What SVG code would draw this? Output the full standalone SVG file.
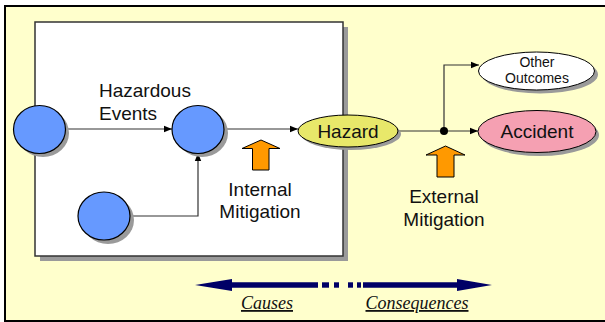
<svg xmlns="http://www.w3.org/2000/svg" width="605" height="322" viewBox="0 0 605 322">
  <defs>
    <marker id="tip" viewBox="0 0 8 8" refX="8" refY="4" markerWidth="8" markerHeight="8" markerUnits="userSpaceOnUse" orient="auto">
      <path d="M0,0.8 L8,4 L0,7.2 Z" fill="#000"/>
    </marker>
    <style>
      .lbl { font-family: "Liberation Sans", Arial, sans-serif; font-size: 19px; fill: #111; text-anchor: middle; }
      .small { font-size: 14px; }
      .left { text-anchor: start; }
      .axis { font-family: "Liberation Serif", "Times New Roman", serif; font-size: 18px; font-style: italic; fill: #111; text-anchor: middle; text-decoration: underline; }
      .shadow { fill: #9a9a9a; }
      .event { fill: #6699ff; stroke: #000; stroke-width: 1.2; }
      .conn { fill: none; stroke: #333; stroke-width: 1.2; marker-end: url(#tip); }
      .plain { fill: none; stroke: #333; stroke-width: 1.2; }
      .mit { fill: #ff9900; stroke: #000; stroke-width: 1; }
    </style>
  </defs>

  <!-- page background and frame -->
  <rect x="0" y="0" width="605" height="322" fill="#fff"/>
  <rect x="5" y="6" width="604" height="315" fill="#ffffcc" stroke="#000" stroke-width="2"/>

  <!-- causes region -->
  <g id="causes-box">
    <rect x="40" y="27" width="308" height="234" class="shadow"/>
    <rect x="35" y="22" width="308" height="234" fill="#fff" stroke="#333" stroke-width="1.5"/>
  </g>

  <!-- connectors -->
  <g id="connectors">
    <path class="conn" d="M65,129 H172"/>
    <path class="conn" d="M224,129 H298"/>
    <path class="conn" d="M130,216 H198 V153"/>
    <path class="plain" d="M398,131 H444"/>
    <path class="conn" d="M444,131 H478"/>
    <path class="conn" d="M444,131 V65 H479"/>
    <circle cx="444" cy="131" r="4" fill="#000"/>
  </g>

  <g id="event-a">
    <ellipse cx="43" cy="133" rx="26" ry="24" class="shadow"/>
    <ellipse cx="39.5" cy="129.5" rx="26" ry="24" class="event"/>
  </g>
  <g id="event-b">
    <ellipse cx="202" cy="133" rx="26" ry="24" class="shadow"/>
    <ellipse cx="198" cy="129.5" rx="26" ry="24" class="event"/>
  </g>
  <g id="event-c">
    <ellipse cx="108" cy="220" rx="26" ry="24" class="shadow"/>
    <ellipse cx="104" cy="216" rx="26" ry="24" class="event"/>
  </g>

  <g id="hazardous-events-label">
    <text class="lbl left" x="99" y="97">Hazardous</text>
    <text class="lbl left" x="99" y="120">Events</text>
  </g>

  <g id="hazard">
    <ellipse cx="351" cy="134" rx="50" ry="16" class="shadow"/>
    <ellipse cx="348" cy="131" rx="50" ry="16" fill="#e8e86a" stroke="#000" stroke-width="1"/>
    <text class="lbl" x="348" y="138">Hazard</text>
  </g>

  <g id="accident">
    <ellipse cx="540" cy="135" rx="59" ry="21" class="shadow"/>
    <ellipse cx="537" cy="131.5" rx="59" ry="21" fill="#f5a0b2" stroke="#000" stroke-width="1"/>
    <text class="lbl" x="537" y="138">Accident</text>
  </g>

  <g id="other-outcomes">
    <ellipse cx="540" cy="74.5" rx="58" ry="19" class="shadow"/>
    <ellipse cx="536.5" cy="71" rx="58" ry="19" fill="#fff" stroke="#000" stroke-width="1"/>
    <text class="lbl small" x="537" y="66.5">Other</text>
    <text class="lbl small" x="537" y="82.5">Outcomes</text>
  </g>

  <g id="internal-mitigation">
    <path class="mit" d="M261,140 L280,148.5 L269,148.5 L269,170 L252.5,170 L252.5,148.5 L242,148.5 Z"/>
    <text class="lbl" x="260" y="196">Internal</text>
    <text class="lbl" x="260" y="218">Mitigation</text>
  </g>

  <g id="external-mitigation">
    <path class="mit" d="M445.5,146 L465,155 L454,155 L454,177 L437,177 L437,155 L426,155 Z"/>
    <text class="lbl" x="444" y="203">External</text>
    <text class="lbl" x="444" y="226">Mitigation</text>
  </g>

  <!-- causes / consequences axis -->
  <g id="axis" fill="#000066">
    <path d="M195,285 L232,279 L232,282.3 L318,282.3 L318,287.7 L232,287.7 L232,291 Z"/>
    <rect x="322" y="282.3" width="7" height="5.4"/>
    <rect x="334" y="282.3" width="5" height="5.4"/>
    <rect x="348" y="282.3" width="5" height="5.4"/>
    <rect x="357" y="282.3" width="4" height="5.4"/>
    <path d="M492,285 L457,279 L457,282.3 L363,282.3 L363,287.7 L457,287.7 L457,291 Z"/>
    <text class="axis" x="267" y="309">Causes</text>
    <text class="axis" x="417" y="309">Consequences</text>
  </g>
</svg>
